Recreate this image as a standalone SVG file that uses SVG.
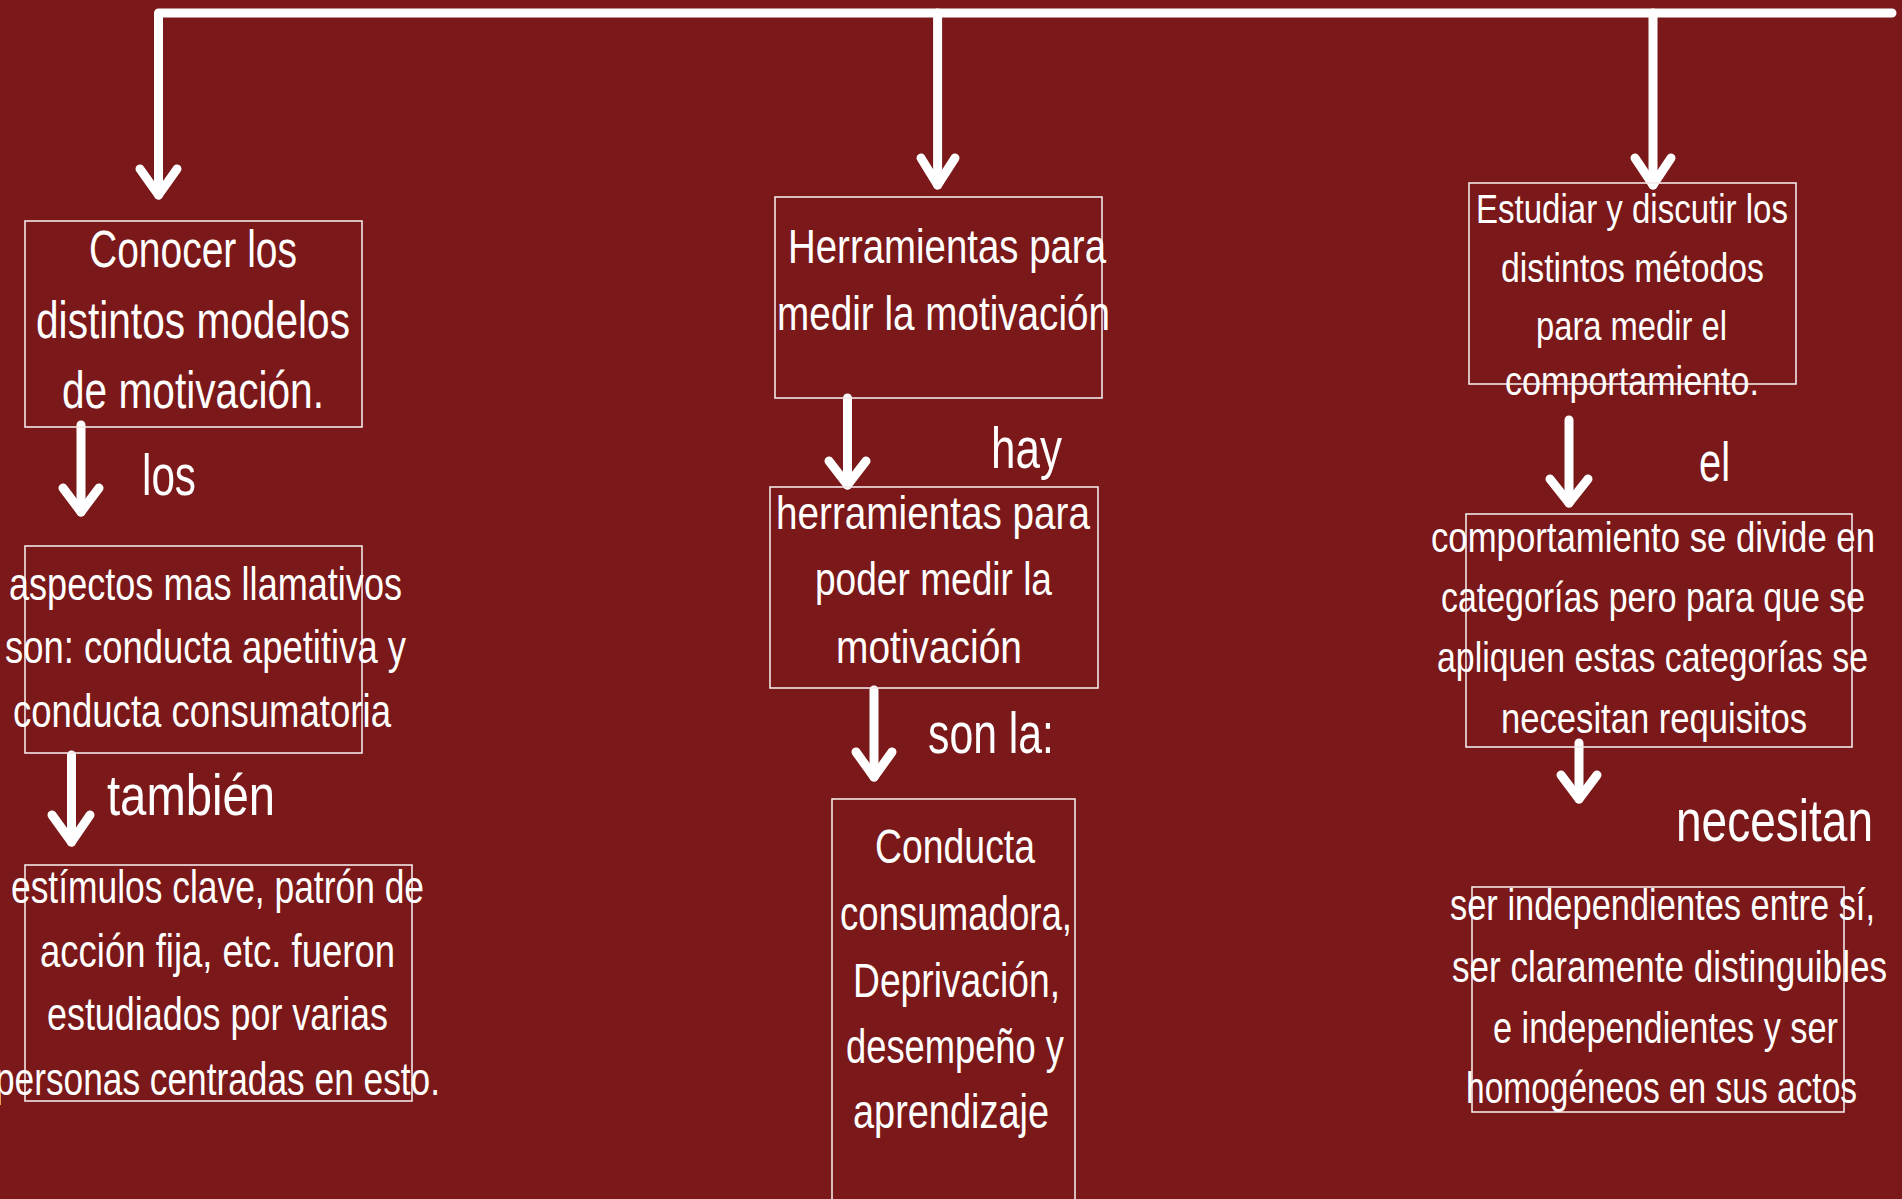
<svg xmlns="http://www.w3.org/2000/svg" width="1902" height="1199" viewBox="0 0 1902 1199">
<style>
.bg{fill:#7b1819}
.box{fill:none;stroke:#f2e6e6;stroke-width:1.6}
.t{fill:#ffffff;font-family:"Liberation Sans Narrow","Liberation Sans",Arial,sans-serif}
.con path{fill:none;stroke:#ffffff;stroke-width:9;stroke-linecap:round;stroke-linejoin:round}
</style>
<rect class="bg" x="0" y="0" width="1902" height="1199"/>
<g id="connectors" class="con">
<path d="M158.5,195 V13 H1892"/>
<path d="M140,169 L158.5,195 L177,169"/>
<path d="M937.6,13 V185"/>
<path d="M921,158 L937.6,185 L955,158"/>
<path d="M1653,13 V185"/>
<path d="M1635,158 L1653,185 L1671,158"/>
<path d="M81,425 V512"/>
<path d="M63,488 L81,512 L99,488"/>
<path d="M71.5,755 V842"/>
<path d="M52,815 L71.5,842 L90,815"/>
<path d="M847.5,398 V485"/>
<path d="M829,461 L847.5,485 L866,461"/>
<path d="M874,690 V777"/>
<path d="M856,752 L874,777 L892,752"/>
<path d="M1569,420 V503"/>
<path d="M1550,479 L1569,503 L1588,479"/>
<path d="M1579,743 V799"/>
<path d="M1561,775 L1579,799 L1597,775"/>
</g>
<g id="n1">
<rect class="box" x="25" y="221" width="337" height="206"/>
<text class="t" font-size="52" x="89" y="267" textLength="208" lengthAdjust="spacingAndGlyphs">Conocer los</text>
<text class="t" font-size="52" x="36" y="338" textLength="314" lengthAdjust="spacingAndGlyphs">distintos modelos</text>
<text class="t" font-size="52" x="62" y="408" textLength="262" lengthAdjust="spacingAndGlyphs">de motivación.</text>
</g>
<g id="l1">
<text class="t" font-size="58" x="142" y="495" textLength="54" lengthAdjust="spacingAndGlyphs">los</text>
</g>
<g id="n2">
<rect class="box" x="25" y="546" width="337" height="207"/>
<text class="t" font-size="46" x="9" y="600" textLength="393" lengthAdjust="spacingAndGlyphs">aspectos mas llamativos</text>
<text class="t" font-size="46" x="5" y="663" textLength="401" lengthAdjust="spacingAndGlyphs">son: conducta apetitiva y</text>
<text class="t" font-size="46" x="13" y="727" textLength="378" lengthAdjust="spacingAndGlyphs">conducta consumatoria</text>
</g>
<g id="l2">
<text class="t" font-size="58" x="107" y="815" textLength="168" lengthAdjust="spacingAndGlyphs">también</text>
</g>
<g id="n3">
<rect class="box" x="25" y="865" width="387" height="236"/>
<text class="t" font-size="46" x="11" y="903" textLength="413" lengthAdjust="spacingAndGlyphs">estímulos clave, patrón de</text>
<text class="t" font-size="46" x="40" y="967" textLength="355" lengthAdjust="spacingAndGlyphs">acción fija, etc. fueron</text>
<text class="t" font-size="46" x="47" y="1030" textLength="341" lengthAdjust="spacingAndGlyphs">estudiados por varias</text>
<text class="t" font-size="46" x="-5" y="1095" textLength="445" lengthAdjust="spacingAndGlyphs">personas centradas en esto.</text>
</g>
<g id="n4">
<rect class="box" x="775" y="197" width="327" height="201"/>
<text class="t" font-size="48" x="788" y="263" textLength="318" lengthAdjust="spacingAndGlyphs">Herramientas para</text>
<text class="t" font-size="48" x="777" y="330" textLength="333" lengthAdjust="spacingAndGlyphs">medir la motivación</text>
</g>
<g id="l3">
<text class="t" font-size="58" x="991" y="468" textLength="71" lengthAdjust="spacingAndGlyphs">hay</text>
</g>
<g id="n5">
<rect class="box" x="770" y="487" width="328" height="201"/>
<text class="t" font-size="46" x="776" y="529" textLength="314" lengthAdjust="spacingAndGlyphs">herramientas para</text>
<text class="t" font-size="46" x="815" y="595" textLength="237" lengthAdjust="spacingAndGlyphs">poder medir la</text>
<text class="t" font-size="46" x="836" y="663" textLength="186" lengthAdjust="spacingAndGlyphs">motivación</text>
</g>
<g id="l4">
<text class="t" font-size="58" x="928" y="753" textLength="126" lengthAdjust="spacingAndGlyphs">son la:</text>
</g>
<g id="n6">
<rect class="box" x="832" y="799" width="243" height="420"/>
<text class="t" font-size="48" x="875" y="863" textLength="160" lengthAdjust="spacingAndGlyphs">Conducta</text>
<text class="t" font-size="48" x="840" y="930" textLength="232" lengthAdjust="spacingAndGlyphs">consumadora,</text>
<text class="t" font-size="48" x="853" y="997" textLength="207" lengthAdjust="spacingAndGlyphs">Deprivación,</text>
<text class="t" font-size="48" x="846" y="1063" textLength="218" lengthAdjust="spacingAndGlyphs">desempeño y</text>
<text class="t" font-size="48" x="853" y="1128" textLength="196" lengthAdjust="spacingAndGlyphs">aprendizaje</text>
</g>
<g id="n7">
<rect class="box" x="1469" y="183" width="327" height="201"/>
<text class="t" font-size="40" x="1476" y="223" textLength="312" lengthAdjust="spacingAndGlyphs">Estudiar y discutir los</text>
<text class="t" font-size="40" x="1501" y="282" textLength="263" lengthAdjust="spacingAndGlyphs">distintos métodos</text>
<text class="t" font-size="40" x="1536" y="340" textLength="191" lengthAdjust="spacingAndGlyphs">para medir el</text>
<text class="t" font-size="40" x="1505" y="395" textLength="254" lengthAdjust="spacingAndGlyphs">comportamiento.</text>
</g>
<g id="l5">
<text class="t" font-size="56" x="1699" y="481" textLength="31" lengthAdjust="spacingAndGlyphs">el</text>
</g>
<g id="n8">
<rect class="box" x="1466" y="514" width="386" height="233"/>
<text class="t" font-size="42" x="1431" y="552" textLength="444" lengthAdjust="spacingAndGlyphs">comportamiento se divide en</text>
<text class="t" font-size="42" x="1441" y="612" textLength="424" lengthAdjust="spacingAndGlyphs">categorías pero para que se</text>
<text class="t" font-size="42" x="1437" y="672" textLength="431" lengthAdjust="spacingAndGlyphs">apliquen estas categorías se</text>
<text class="t" font-size="42" x="1501" y="733" textLength="306" lengthAdjust="spacingAndGlyphs">necesitan requisitos</text>
</g>
<g id="l6">
<text class="t" font-size="60" x="1676" y="841" textLength="197" lengthAdjust="spacingAndGlyphs">necesitan</text>
</g>
<g id="n9">
<rect class="box" x="1472" y="887" width="372" height="225"/>
<text class="t" font-size="44" x="1450" y="920" textLength="425" lengthAdjust="spacingAndGlyphs">ser independientes entre sí,</text>
<text class="t" font-size="44" x="1452" y="982" textLength="435" lengthAdjust="spacingAndGlyphs">ser claramente distinguibles</text>
<text class="t" font-size="44" x="1493" y="1043" textLength="345" lengthAdjust="spacingAndGlyphs">e independientes y ser</text>
<text class="t" font-size="44" x="1466" y="1103" textLength="391" lengthAdjust="spacingAndGlyphs">homogéneos en sus actos</text>
</g>
</svg>
